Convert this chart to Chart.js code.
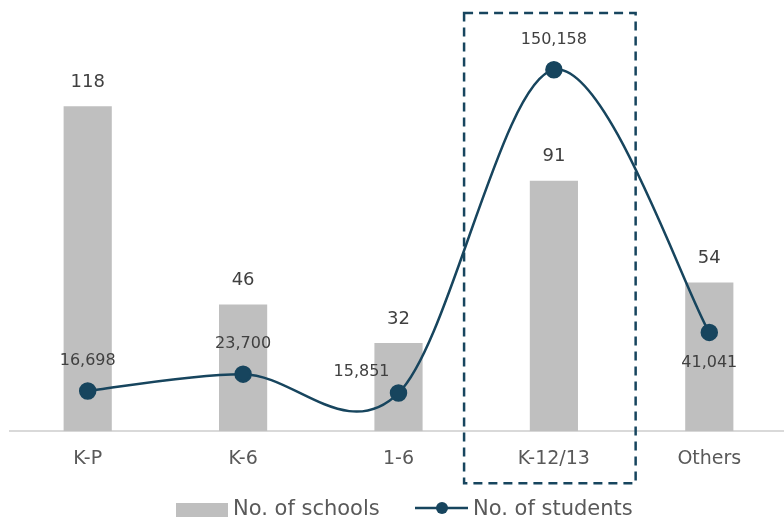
<!DOCTYPE html>
<html>
<head>
<meta charset="utf-8">
<script src="https://cdn.jsdelivr.net/npm/chart.js@4.4.1/dist/chart.umd.min.js"></script>
<style>
  html, body { margin: 0; padding: 0; background: #fff; overflow: hidden; }
  #wrap { width: 797px; height: 517px; }
</style>
</head>
<body>
<div id="wrap"><canvas id="chart"></canvas></div>
<script>
// Chart data
const categories = ['K-P', 'K-6', '1-6', 'K-12/13', 'Others'];
const schools = [118, 46, 32, 91, 54];
const students = [16698, 23700, 15851, 150158, 41041];
const studentLabelPos = ['top', 'top', 'left', 'top', 'bottom'];
const highlightIndex = 3;

const FONT = '"DejaVu Sans", sans-serif';
const LINE_COLOR = '#17455e';
const BAR_COLOR = '#bfbfbf';
const TEXT_COLOR = '#404040';

// Excel style smoothing: uniform catmull-rom control points (1/6 of the neighbour chord)
const smoothLine = {
  id: 'smoothLine',
  beforeDatasetsDraw(chart) {
    const meta = chart.getDatasetMeta(0);
    meta.dataset.updateControlPoints(chart.chartArea);
    const pts = meta.data;
    pts.forEach((p, i) => {
      const prev = pts[i - 1] || p;
      const next = pts[i + 1] || p;
      const dx = (next.x - prev.x) / 6;
      const dy = (next.y - prev.y) / 6;
      p.cp1x = p.x - dx;
      p.cp1y = p.y - dy;
      p.cp2x = p.x + dx;
      p.cp2y = p.y + dy;
    });
  }
};

// value labels for both series
const valueLabels = {
  id: 'valueLabels',
  afterDatasetsDraw(chart) {
    const ctx = chart.ctx;
    ctx.save();
    ctx.fillStyle = TEXT_COLOR;
    ctx.textAlign = 'center';
    ctx.textBaseline = 'middle';

    const barMeta = chart.getDatasetMeta(1);
    ctx.font = '18px ' + FONT;
    barMeta.data.forEach((bar, i) => {
      ctx.fillText(schools[i], bar.x, bar.y - 24);
    });

    const lineMeta = chart.getDatasetMeta(0);
    ctx.font = '16px ' + FONT;
    lineMeta.data.forEach((pt, i) => {
      const txt = students[i].toLocaleString('en-US');
      const pos = studentLabelPos[i];
      if (pos === 'top') ctx.fillText(txt, pt.x, pt.y - 30);
      else if (pos === 'bottom') ctx.fillText(txt, pt.x, pt.y + 30);
      else if (pos === 'left') {
        ctx.textAlign = 'right';
        ctx.fillText(txt, pt.x - 9, pt.y - 21);
        ctx.textAlign = 'center';
      }
    });
    ctx.restore();
  }
};

// dashed box around the highlighted category
const highlightBox = {
  id: 'highlightBox',
  afterDraw(chart) {
    const x = chart.scales.x;
    const step = x.getPixelForValue(1) - x.getPixelForValue(0);
    const cx = x.getPixelForValue(highlightIndex);
    const area = chart.chartArea;
    const ctx = chart.ctx;
    ctx.save();
    ctx.strokeStyle = LINE_COLOR;
    ctx.lineWidth = 2.5;
    ctx.setLineDash([9, 6]);
    ctx.strokeRect(cx - step * 0.578, area.top + 3, step * 1.104, area.bottom - area.top + 49);
    ctx.restore();
  }
};

// legend at the bottom: grey box + line with dot
const bottomLegend = {
  id: 'bottomLegend',
  afterDraw(chart) {
    const ctx = chart.ctx;
    const y = 510;
    ctx.save();
    ctx.font = '21px ' + FONT;
    ctx.textBaseline = 'middle';
    ctx.textAlign = 'left';

    ctx.fillStyle = BAR_COLOR;
    ctx.fillRect(176, 503, 52, 16);
    ctx.fillStyle = '#595959';
    ctx.fillText('No. of schools', 233, y);

    ctx.strokeStyle = LINE_COLOR;
    ctx.lineWidth = 2.5;
    ctx.beginPath();
    ctx.moveTo(415, 508);
    ctx.lineTo(468, 508);
    ctx.stroke();
    ctx.fillStyle = LINE_COLOR;
    ctx.beginPath();
    ctx.arc(442, 508, 6, 0, Math.PI * 2);
    ctx.fill();
    ctx.fillStyle = '#595959';
    ctx.fillText('No. of students', 473, y);
    ctx.restore();
  }
};

new Chart(document.getElementById('chart'), {
  data: {
    labels: categories,
    datasets: [
      {
        type: 'line',
        label: 'No. of students',
        data: students,
        yAxisID: 'y1',
        borderColor: LINE_COLOR,
        backgroundColor: LINE_COLOR,
        borderWidth: 2.5,
        pointRadius: 7.5,
        pointHoverRadius: 7.5,
        tension: 0.4,
        fill: false
      },
      {
        type: 'bar',
        label: 'No. of schools',
        data: schools,
        yAxisID: 'y',
        backgroundColor: BAR_COLOR,
        barPercentage: 0.31,
        categoryPercentage: 1
      }
    ]
  },
  options: {
    responsive: true,
    maintainAspectRatio: false,
    animation: false,
    layout: { padding: { top: 10, left: 9, right: 0, bottom: 39 } },
    plugins: {
      legend: { display: false },
      tooltip: { enabled: false }
    },
    scales: {
      x: {
        grid: { display: false },
        border: { color: '#d9d9d9', width: 2 },
        ticks: { color: '#595959', font: { family: FONT, size: 19 }, padding: 8 }
      },
      y: { display: false, min: 0, max: 153 },
      y1: { display: false, min: 0, max: 175000 }
    }
  },
  plugins: [smoothLine, valueLabels, highlightBox, bottomLegend]
});
</script>
</body>
</html>
